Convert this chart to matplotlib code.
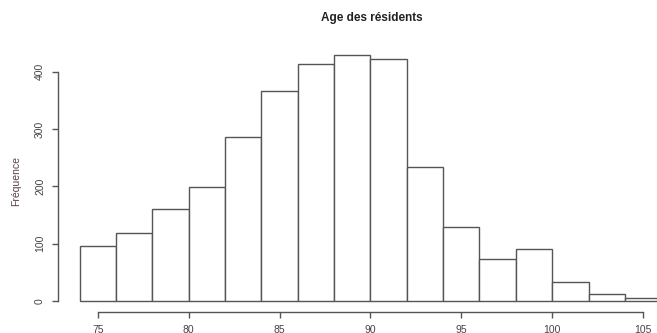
import matplotlib
matplotlib.use("Agg")
from matplotlib import pyplot as plt

# histogram of ages, bins of width 2
bin_edges = [74, 76, 78, 80, 82, 84, 86, 88, 90, 92, 94, 96, 98, 100, 102, 104, 106]
counts = [96, 118, 160, 199, 286, 367, 414, 430, 423, 234, 130, 74, 90, 33, 12, 6]
x_ticks = [75, 80, 85, 90, 95, 100, 105]
y_ticks = [0, 100, 200, 300, 400]

plt.rcParams['font.family'] = ['Liberation Sans', 'DejaVu Sans']

W, H = 657, 333
fig = plt.figure(figsize=(W / 100, H / 100), dpi=100)
ax = fig.add_axes([58 / W, (H - 312) / H, (W - 58) / W, (312 - 50) / H])

line_col = '#555555'
ax.bar(bin_edges[:-1], counts, width=[b - a for a, b in zip(bin_edges[:-1], bin_edges[1:])],
       align='edge', facecolor='white', edgecolor=line_col, linewidth=1.0)

ax.set_xlim(72.80, 105.77)
ax.set_ylim(-19.2, 438.0)

ax.spines['top'].set_visible(False)
ax.spines['right'].set_visible(False)
ax.spines['left'].set_bounds(0, 400)
ax.spines['bottom'].set_bounds(75, 105)
for s in ('left', 'bottom'):
    ax.spines[s].set_color(line_col)
    ax.spines[s].set_linewidth(1.0)

ax.set_xticks(x_ticks)
ax.set_yticks(y_ticks)
ax.set_yticklabels([str(v) for v in y_ticks], rotation=90, va='center')
ax.tick_params(axis='both', length=4.3, width=1.0, color=line_col,
               labelsize=7.5, labelcolor='#444444', pad=5)

ax.set_ylabel('Fréquence', fontsize=7.5, color='#5a4040', labelpad=10)
fig.text(372 / W, 1 - 18 / H, 'Age des résidents', ha='center', va='center',
         fontsize=8.5, fontweight='bold', color='#222222')

fig.savefig('out.png', dpi=100)
